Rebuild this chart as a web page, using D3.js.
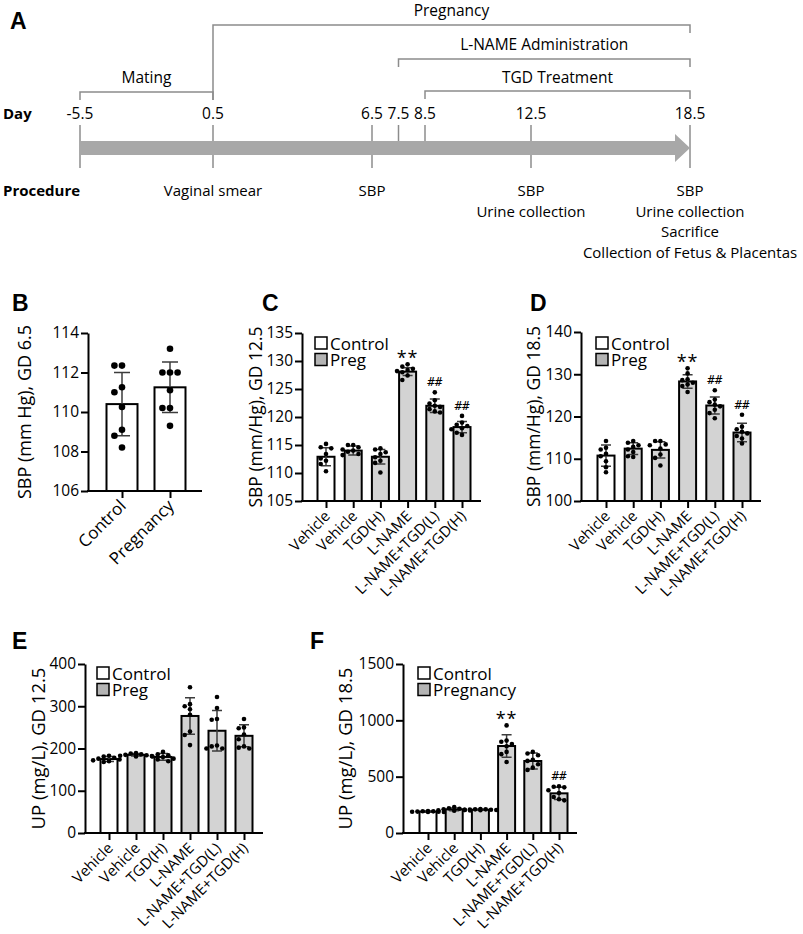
<!DOCTYPE html>
<html>
<head>
<meta charset="utf-8">
<script src="https://cdn.jsdelivr.net/npm/d3@7"></script>
<style>
  body { margin: 0; background: #fff; }
  svg text { font-family: "Open Sans", sans-serif; fill: #000; }
</style>
</head>
<body>
<div id="fig"></div>
<script>
// Timeline (panel A) and five bar panels (B-F)

// ---- panel A data ----
const tlDays = [-5.5, 0.5, 6.5, 7.5, 8.5, 12.5, 18.5]
const tlDayLabels = ["-5.5", "0.5", "6.5", "7.5", "8.5", "12.5", "18.5"]
const tlThroughDays = [-5.5, 0.5, 6.5, 12.5, 18.5]
const phaseNames = ["Pregnancy", "L-NAME Administration", "TGD Treatment", "Mating"]
const phaseStart = [0.5, 7.5, 8.5, -5.5]
const phaseEnd = [18.5, 18.5, 18.5, 0.5]
const procDays = [0.5, 6.5, 12.5, 18.5]
const procLines = [
  ["Vaginal smear"],
  ["SBP"],
  ["SBP", "Urine collection"],
  ["SBP", "Urine collection", "Sacrifice", "Collection of Fetus & Placentas"]
]

// ---- bar panel data ----
const bGroups = ["Control", "Pregnancy"]
const bShaded = [false, false]
const bMeans = [110.4, 111.25]
const bSD = [1.6, 1.28]
const bDots = [
  [112.35, 112.35, 111.25, 111.0, 110.25, 109.1, 108.8, 108.2],
  [113.2, 112.0, 112.0, 112.0, 111.1, 110.2, 110.2, 109.3]
]
const bTicks = [106, 108, 110, 112, 114]

const sixGroups = ["Vehicle", "Vehicle", "TGD(H)", "L-NAME", "L-NAME+TGD(L)", "L-NAME+TGD(H)"]
const sixShaded = [false, true, true, true, true, true]

const cMeans = [112.9, 114.0, 112.9, 128.1, 122.0, 118.2]
const cSD = [1.6, 0.8, 1.3, 0.7, 1.2, 1.0]
const cDots = [
  [115.2, 114.6, 114.4, 113.4, 112.6, 112.2, 111.6, 110.3],
  [115.0, 115.0, 114.6, 114.2, 114.0, 113.8, 113.4, 113.2],
  [114.4, 114.2, 113.7, 113.4, 112.8, 112.2, 111.8, 110.1],
  [129.4, 129.0, 128.6, 128.4, 128.2, 128.0, 127.4, 126.6],
  [124.4, 123.0, 122.4, 122.0, 121.8, 121.4, 121.0, 120.8],
  [120.2, 119.0, 118.6, 118.4, 118.0, 117.8, 117.2, 116.8]
]
const cMarks = ["", "", "", "**", "##", "##"]
const cTicks = [105, 110, 115, 120, 125, 130, 135]

const dMeans = [110.75, 112.4, 112.1, 128.3, 122.6, 116.2]
const dSD = [2.5, 1.4, 1.9, 1.6, 2.0, 2.2]
const dDots = [
  [114.2, 112.6, 112.2, 111.2, 110.6, 109.4, 108.0, 106.8],
  [114.2, 113.8, 113.2, 112.8, 112.2, 111.6, 110.6, 110.4],
  [114.2, 114.2, 113.4, 113.2, 112.4, 111.0, 110.2, 108.4],
  [131.4, 130.2, 128.8, 128.6, 128.0, 127.6, 127.2, 125.8],
  [126.2, 124.0, 123.4, 122.8, 122.4, 121.6, 120.8, 119.6],
  [120.4, 117.6, 117.0, 116.4, 116.0, 115.4, 114.8, 113.6]
]
const dMarks = ["", "", "", "**", "##", "##"]
const dTicks = [100, 110, 120, 130, 140]

const eMeans = [175, 185, 180, 277, 242, 230]
const eSD = [6, 3, 8, 43, 48, 26]
const eDots = [
  [183, 181, 178, 176, 174, 172, 170, 168],
  [189, 188, 186, 185, 184, 183, 182, 181],
  [192, 186, 184, 181, 180, 176, 174, 170],
  [345, 305, 300, 293, 280, 240, 232, 208],
  [322, 296, 270, 268, 207, 205, 200, 200],
  [270, 250, 248, 233, 222, 205, 202, 200]
]
const eMarks = ["", "", "", "", "", ""]
const eTicks = [0, 100, 200, 300, 400]

const fMeans = [190, 210, 207, 772, 639, 352]
const fSD = [5, 12, 4, 100, 70, 55]
const fDots = [
  [195, 193, 192, 190, 189, 188, 187, 186],
  [230, 220, 215, 210, 205, 202, 200, 198],
  [212, 210, 210, 208, 206, 205, 204, 203],
  [955, 820, 810, 790, 770, 720, 700, 630],
  [720, 705, 690, 650, 640, 610, 580, 560],
  [415, 410, 405, 380, 355, 320, 300, 290]
]
const fMarks = ["", "", "", "**", "", "##"]
const fTicks = [0, 500, 1000, 1500]

const WIDTH = 803
const HEIGHT = 934
const BAR_FILL = "#d3d3d3"
const LEGEND_FILL = "#b4b4b4"
const ERR_COLOR = "#3c3c3c"

const svg = d3.select("#fig")
  .append("svg")
  .attr("width", WIDTH)
  .attr("height", HEIGHT)

function panelLetter(letter, x, y) {
  svg.append("text")
    .attr("x", x).attr("y", y)
    .style("font-family", "'Liberation Sans', Arial, sans-serif")
    .style("font-weight", "bold")
    .style("font-size", "23px")
    .text(letter)
}

// ================= PANEL A =================
function drawTimeline() {
  panelLetter("A", 10, 29)
  const x = d3.scaleLinear().domain([-5.5, 0.5, 18.5]).range([80, 213, 690])
  const g = svg.append("g")
  const gray = "#8c8c8c"

  // bracket rows: y of the horizontal line for each phase
  const rowY = [25, 59, 91, 92]
  const textY = [16, 50, 83, 83]
  phaseNames.forEach(function(name, i) {
    const x1 = x(phaseStart[i]), x2 = x(phaseEnd[i]), y = rowY[i]
    const leftDrop = (i === 0) ? 100 : y + 8
    g.append("path")
      .attr("d", `M${x1},${leftDrop}V${y}H${x2}V${y + 8}`)
      .attr("fill", "none")
      .attr("stroke", gray)
      .attr("stroke-width", 1.5)
    g.append("text")
      .attr("x", (x1 + x2) / 2)
      .attr("y", textY[i])
      .attr("text-anchor", "middle")
      .style("font-size", "15.5px")
      .text(name)
  })

  // day ticks
  tlDays.forEach(function(d) {
    g.append("line")
      .attr("x1", x(d)).attr("x2", x(d))
      .attr("y1", 125).attr("y2", tlThroughDays.includes(d) ? 168 : 142)
      .attr("stroke", gray).attr("stroke-width", 1.5)
  })

  // arrow
  const xs = x(-5.5), xe = x(18.5)
  g.append("path")
    .attr("d", `M${xs},141H${xe - 15}V134L${xe},148L${xe - 15},162V155H${xs}Z`)
    .attr("fill", "#a8a8a8")

  g.selectAll(".daylab")
    .data(tlDays)
    .enter()
    .append("text")
      .attr("x", d => x(d))
      .attr("y", 119)
      .attr("text-anchor", "middle")
      .style("font-size", "15.5px")
      .text((d, i) => tlDayLabels[i])

  g.append("text").attr("x", 3).attr("y", 119)
    .style("font-weight", "bold").style("font-size", "15px").text("Day")
  g.append("text").attr("x", 3).attr("y", 196)
    .style("font-weight", "bold").style("font-size", "15px").text("Procedure")

  procDays.forEach(function(d, i) {
    procLines[i].forEach(function(line, j) {
      g.append("text")
        .attr("x", x(d))
        .attr("y", 196 + j * 20.5)
        .attr("text-anchor", "middle")
        .style("font-size", "15px")
        .text(line)
    })
  })
}

// ================= BAR PANELS =================
// simple beeswarm: push dots sideways until they don't overlap
function swarm(values, yScale, r) {
  const placed = []
  const order = values.map((v, i) => i).sort((a, b) => values[b] - values[a])
  const offsets = new Array(values.length).fill(0)
  const step = r * 2.3
  order.forEach(function(i) {
    const y = yScale(values[i])
    const cands = [0, -1, 1, -2, 2, -3, 3]
    for (const c of cands) {
      const ox = c * step
      const clash = placed.some(p => Math.hypot(p.x - ox, p.y - y) < r * 2.1)
      if (!clash) {
        offsets[i] = ox
        placed.push({x: ox, y: y})
        break
      }
    }
  })
  return offsets
}

function drawBarPanel(cfg) {
  panelLetter(cfg.letter, cfg.letterX, cfg.letterY)
  const g = svg.append("g")
  const n = cfg.groups.length

  const x = d3.scalePoint()
    .domain(d3.range(n))
    .range([cfg.firstCx, cfg.lastCx])
  const y = d3.scaleLinear()
    .domain(cfg.domain)
    .range([cfg.y0, cfg.y1])

  // bars
  g.selectAll(".bar")
    .data(cfg.means)
    .enter()
    .append("rect")
      .attr("x", (d, i) => x(i) - cfg.barW / 2)
      .attr("y", d => y(d))
      .attr("width", cfg.barW)
      .attr("height", d => cfg.y0 - y(d))
      .attr("fill", (d, i) => cfg.shaded[i] ? BAR_FILL : "#fff")
      .attr("stroke", "#000")
      .attr("stroke-width", 2)

  // error bars
  cfg.means.forEach(function(m, i) {
    const cx = x(i), top = y(m + cfg.sd[i]), bot = y(m - cfg.sd[i])
    g.append("path")
      .attr("d", `M${cx},${top}V${bot}M${cx - cfg.capW / 2},${top}H${cx + cfg.capW / 2}M${cx - cfg.capW / 2},${bot}H${cx + cfg.capW / 2}`)
      .attr("stroke", ERR_COLOR)
      .attr("stroke-width", 1.5)
      .attr("fill", "none")
  })

  // dots
  cfg.dots.forEach(function(vals, i) {
    const off = swarm(vals, y, cfg.dotR)
    g.selectAll(null)
      .data(vals)
      .enter()
      .append("circle")
        .attr("cx", (d, j) => x(i) + off[j])
        .attr("cy", d => y(d))
        .attr("r", cfg.dotR)
        .attr("fill", "#000")
  })

  // significance marks
  cfg.marks.forEach(function(mk, i) {
    if (!mk) return
    const topVal = Math.max(d3.max(cfg.dots[i]), cfg.means[i] + cfg.sd[i])
    const star = mk === "**"
    g.append("text")
      .attr("x", x(i))
      .attr("y", y(topVal) - (star ? 0 : 6))
      .attr("text-anchor", "middle")
      .style("font-size", star ? "18px" : "12.5px")
      .style("font-family", star ? "'Open Sans', sans-serif" : "'DejaVu Sans Mono', monospace")
      .style("letter-spacing", star ? "1px" : "0px")
      .text(mk)
  })

  // y axis
  const yAxis = g.append("g")
    .attr("transform", `translate(${cfg.axisX},0)`)
    .call(d3.axisLeft(y).tickValues(cfg.ticks).tickSize(7).tickSizeOuter(0)
      .tickPadding(2).tickFormat(d3.format("d")))
  yAxis.select(".domain").attr("stroke-width", 2)
  yAxis.selectAll(".tick line").attr("stroke-width", 2)
  yAxis.selectAll(".tick text").style("font-size", "15.5px")
    .style("font-family", "'Open Sans', sans-serif")

  // x axis: baseline + ticks at bar centers
  g.append("line")
    .attr("x1", cfg.axisX - 1).attr("x2", cfg.axisEnd)
    .attr("y1", cfg.y0).attr("y2", cfg.y0)
    .attr("stroke", "#000").attr("stroke-width", 2)
  const xAxis = g.append("g")
    .attr("transform", `translate(0,${cfg.y0})`)
    .call(d3.axisBottom(x).tickSize(7).tickFormat(""))
  xAxis.select(".domain").remove()
  xAxis.selectAll(".tick line").attr("stroke-width", 2)

  g.selectAll(".xlab")
    .data(cfg.groups)
    .enter()
    .append("text")
      .attr("transform", (d, i) => `translate(${x(i) + 5},${cfg.y0 + 16}) rotate(-45)`)
      .attr("text-anchor", "end")
      .style("font-size", cfg.xFont)
      .text(d => d)

  // y title
  g.append("text")
    .attr("transform", `translate(${cfg.labelX},${(cfg.y0 + cfg.y1) / 2}) rotate(-90)`)
    .attr("text-anchor", "middle")
    .style("font-size", cfg.titleFont)
    .text(cfg.yTitle)

  // legend
  if (cfg.legend) {
    cfg.legend.forEach(function(lab, i) {
      const ly = cfg.legendY + i * 16.5
      g.append("rect")
        .attr("x", cfg.legendX).attr("y", ly)
        .attr("width", 12).attr("height", 12)
        .attr("fill", i === 0 ? "#fff" : LEGEND_FILL)
        .attr("stroke", "#000").attr("stroke-width", 1.5)
      g.append("text")
        .attr("x", cfg.legendX + 15).attr("y", ly + 12.5)
        .style("font-size", "17px")
        .text(lab)
    })
  }
}

drawTimeline()

drawBarPanel({
  letter: "B", letterX: 12, letterY: 311,
  groups: bGroups, shaded: bShaded, means: bMeans, sd: bSD, dots: bDots,
  marks: ["", ""], ticks: bTicks, domain: [106, 114],
  y0: 491, y1: 333, axisX: 88, axisEnd: 202, firstCx: 122, lastCx: 170,
  barW: 31, dotR: 3.3, capW: 16, xFont: "17px", titleFont: "18px",
  labelX: 31, yTitle: "SBP (mm Hg), GD 6.5", legend: null
})

drawBarPanel({
  letter: "C", letterX: 262, letterY: 311,
  groups: sixGroups, shaded: sixShaded, means: cMeans, sd: cSD, dots: cDots,
  marks: cMarks, ticks: cTicks, domain: [105, 135],
  y0: 501, y1: 333, axisX: 302, axisEnd: 481, firstCx: 326, lastCx: 462,
  barW: 17, dotR: 2.3, capW: 10, xFont: "15px", titleFont: "17.5px",
  labelX: 262, yTitle: "SBP (mm/Hg), GD 12.5",
  legend: ["Control", "Preg"], legendX: 315, legendY: 337
})

drawBarPanel({
  letter: "D", letterX: 530, letterY: 311,
  groups: sixGroups, shaded: sixShaded, means: dMeans, sd: dSD, dots: dDots,
  marks: dMarks, ticks: dTicks, domain: [100, 140],
  y0: 501, y1: 332, axisX: 581, axisEnd: 761, firstCx: 606, lastCx: 742,
  barW: 17, dotR: 2.3, capW: 10, xFont: "15px", titleFont: "17.5px",
  labelX: 540, yTitle: "SBP (mm/Hg), GD 18.5",
  legend: ["Control", "Preg"], legendX: 596, legendY: 337
})

drawBarPanel({
  letter: "E", letterX: 12, letterY: 649,
  groups: sixGroups, shaded: sixShaded, means: eMeans, sd: eSD, dots: eDots,
  marks: eMarks, ticks: eTicks, domain: [0, 400],
  y0: 833, y1: 664, axisX: 85, axisEnd: 263, firstCx: 109, lastCx: 244,
  barW: 17, dotR: 2.3, capW: 10, xFont: "15px", titleFont: "18.5px",
  labelX: 45, yTitle: "UP (mg/L), GD 12.5",
  legend: ["Control", "Preg"], legendX: 97, legendY: 667
})

drawBarPanel({
  letter: "F", letterX: 310, letterY: 649,
  groups: sixGroups, shaded: sixShaded, means: fMeans, sd: fSD, dots: fDots,
  marks: fMarks, ticks: fTicks, domain: [0, 1500],
  y0: 833, y1: 664, axisX: 403, axisEnd: 577, firstCx: 428, lastCx: 559,
  barW: 17, dotR: 2.3, capW: 10, xFont: "15px", titleFont: "18.5px",
  labelX: 352, yTitle: "UP (mg/L), GD 18.5",
  legend: ["Control", "Pregnancy"], legendX: 418, legendY: 667
})
</script>
</body>
</html>
